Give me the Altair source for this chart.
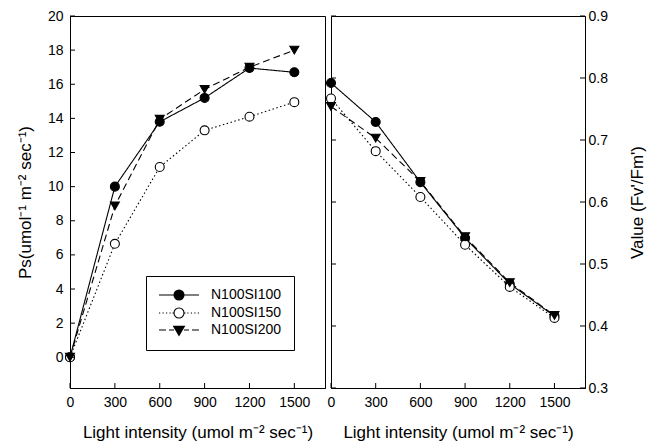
import altair as alt
import pandas as pd

# ---------------- data ----------------
light = [0, 300, 600, 900, 1200, 1500]
series_names = ["N100SI100", "N100SI150", "N100SI200"]

ps_si100 = [0.0, 10.0, 13.8, 15.2, 16.95, 16.7]
ps_si150 = [0.0, 6.65, 11.15, 13.3, 14.1, 14.95]
ps_si200 = [0.0, 8.87, 13.95, 15.7, 17.0, 18.0]

fv_si100 = [0.792, 0.729, 0.632, 0.542, 0.468, 0.416]
fv_si150 = [0.767, 0.682, 0.608, 0.531, 0.463, 0.413]
fv_si200 = [0.754, 0.703, 0.633, 0.544, 0.470, 0.417]

x_ticks = [0, 300, 600, 900, 1200, 1500]
ps_ticks = [0, 2, 4, 6, 8, 10, 12, 14, 16, 18, 20]
fv_ticks = [0.3, 0.4, 0.5, 0.6, 0.7, 0.8, 0.9]


def long_frame(a, b, c):
    rows = []
    for name, vals in zip(series_names, [a, b, c]):
        for xv, yv in zip(light, vals):
            rows.append({"series": name, "light": xv, "value": yv})
    return pd.DataFrame(rows)


df_ps = long_frame(ps_si100, ps_si150, ps_si200)
df_fv = long_frame(fv_si100, fv_si150, fv_si200)

# ---------------- styling ----------------
FONT = "Liberation Sans"
W_L, W_R, H = 255, 254, 372
TICK = 5

dash_range = [[1, 0], [1.5, 2.5], [7, 4]]
marker_shapes = ["circle", "circle", "triangle-down"]
marker_fills = ["black", "white", "black"]

# legend symbol paths, stroke-only (unit = 6 px with symbolSize 144)
U = 6.0


def f(v):
    return f"{v / U:.3f}"


def seg(a, b, y=0.0):
    return f"M{f(a)},{f(y)}L{f(b)},{f(y)}"


def ring(r):
    return f"M{f(-r)},0A{f(r)},{f(r)} 0 1,0 {f(r)},0A{f(r)},{f(r)} 0 1,0 {f(-r)},0Z"


open_circle = ring(5)
solid_circle = "".join(ring(r) for r in [5, 4.2, 3.4, 2.6, 1.8, 1.0, 0.4])
tri_top, tri_bot, tri_half = -3.6, 5.4, 5.4
tri_outline = f"M{f(-tri_half)},{f(tri_top)}L{f(tri_half)},{f(tri_top)}L0,{f(tri_bot)}Z"
tri_fill = ""
yy = tri_top
while yy < tri_bot:
    hw = tri_half * (tri_bot - yy) / (tri_bot - tri_top)
    tri_fill += seg(-hw, hw, yy)
    yy += 0.8
solid_tri = tri_outline + tri_fill

solid_p = seg(-20, -5) + seg(5, 20) + solid_circle
dots = [-20, -16.5, -13, -9.5, -6.5]
dotted_p = "".join(seg(d, d + 1.2) for d in dots) + "".join(seg(-d - 1.2, -d) for d in dots) + open_circle
dashed_p = seg(-20, -13) + seg(-10, -5) + seg(5, 10) + seg(13, 20) + solid_tri
legend_paths = [solid_p, dotted_p, dashed_p]

x_scale = alt.Scale(domain=[0, 1705], nice=False, zero=False)
ps_scale = alt.Scale(domain=[-1.8, 20], nice=False, zero=False)
fv_scale = alt.Scale(domain=[0.3, 0.9], nice=False, zero=False)

x_axis = alt.Axis(values=x_ticks, format="d", ticks=False, tickSize=0, grid=False,
                  labelPadding=7, labelFlush=False, titlePadding=15,
                  title="Light intensity (umol m\u207b\u00b2 sec\u207b\u00b9)")
ps_axis = alt.Axis(values=ps_ticks, format="d", ticks=False, tickSize=0, grid=False,
                   labelPadding=7, titlePadding=13,
                   title="Ps(umol\u207b\u00b9 m\u207b\u00b2 sec\u207b\u00b9)")
fv_axis = alt.Axis(values=fv_ticks, format=".1f", ticks=False, tickSize=0, grid=False,
                   orient="right", labelPadding=3, titlePadding=22, titleAngle=270,
                   titleBaseline="top",
                   title="Value (Fv'/Fm')")


def panel(df, y_scale, y_axis, width, tick_vals, left_ticks, right_ticks, with_legend):
    X = alt.X("light:Q", scale=x_scale, axis=x_axis)
    Y = alt.Y("value:Q", scale=y_scale, axis=y_axis)
    lines = alt.Chart(df).mark_line(color="black", strokeWidth=1.1).encode(
        x=X, y=Y,
        strokeDash=alt.StrokeDash("series:N", scale=alt.Scale(domain=series_names, range=dash_range), legend=None),
    )
    layers = [lines]
    for name, shp, fil in zip(series_names, marker_shapes, marker_fills):
        layers.append(
            alt.Chart(df).transform_filter(alt.datum.series == name).mark_point(
                shape=shp, filled=True, fill=fil, stroke="black", strokeWidth=1.1,
                size=80, opacity=1).encode(x=X, y=Y)
        )
    ytick_df = pd.DataFrame({"value": tick_vals})
    if left_ticks:
        layers.append(alt.Chart(ytick_df).mark_rule(color="black", strokeWidth=1).encode(
            y=Y, x=alt.value(0), x2=alt.value(TICK)))
    if right_ticks:
        layers.append(alt.Chart(ytick_df).mark_rule(color="black", strokeWidth=1).encode(
            y=Y, x=alt.value(width - TICK), x2=alt.value(width)))
    xtick_df = pd.DataFrame({"light": x_ticks})
    layers.append(alt.Chart(xtick_df).mark_rule(color="black", strokeWidth=1).encode(
        x=X, y=alt.value(H), y2=alt.value(H - TICK)))
    if with_legend:
        leg = alt.Legend(orient="none", legendX=76, legendY=260, title=None,
                         padding=12, strokeColor="black", fillColor="white",
                         symbolSize=144, symbolStrokeWidth=1.1,
                         symbolOpacity=1, symbolOffset=14, labelOffset=25,
                         labelFont=FONT, labelFontSize=14, labelColor="black",
                         rowPadding=2, cornerRadius=0)
        carrier = alt.Chart(df).transform_filter("false").mark_point(
            filled=False, color="black", strokeWidth=1.1).encode(
            x=X, y=Y,
            shape=alt.Shape("series:N", scale=alt.Scale(domain=series_names, range=legend_paths), legend=leg),
        )
        layers.append(carrier)
    return alt.layer(*layers).properties(width=width, height=H)


left = panel(df_ps, ps_scale, ps_axis, W_L, ps_ticks, True, False, True)
right = panel(df_fv, fv_scale, fv_axis, W_R, fv_ticks, True, True, False)

chart = alt.hconcat(left, right, spacing=6, bounds="flush").resolve_scale(
    y="independent", strokeDash="independent"
).configure(
    padding={"left": 7, "top": 0, "right": 5, "bottom": 5},
    background="white",
).configure_view(
    stroke="black", strokeWidth=1, fill="white"
).configure_axis(
    labelFont=FONT, titleFont=FONT, labelFontSize=14, titleFontSize=17,
    labelColor="black", titleColor="black", titleFontWeight="normal",
    domainColor="black", domainWidth=1,
)

chart.save("out.html", embed_options={"renderer": "svg", "actions": False})
